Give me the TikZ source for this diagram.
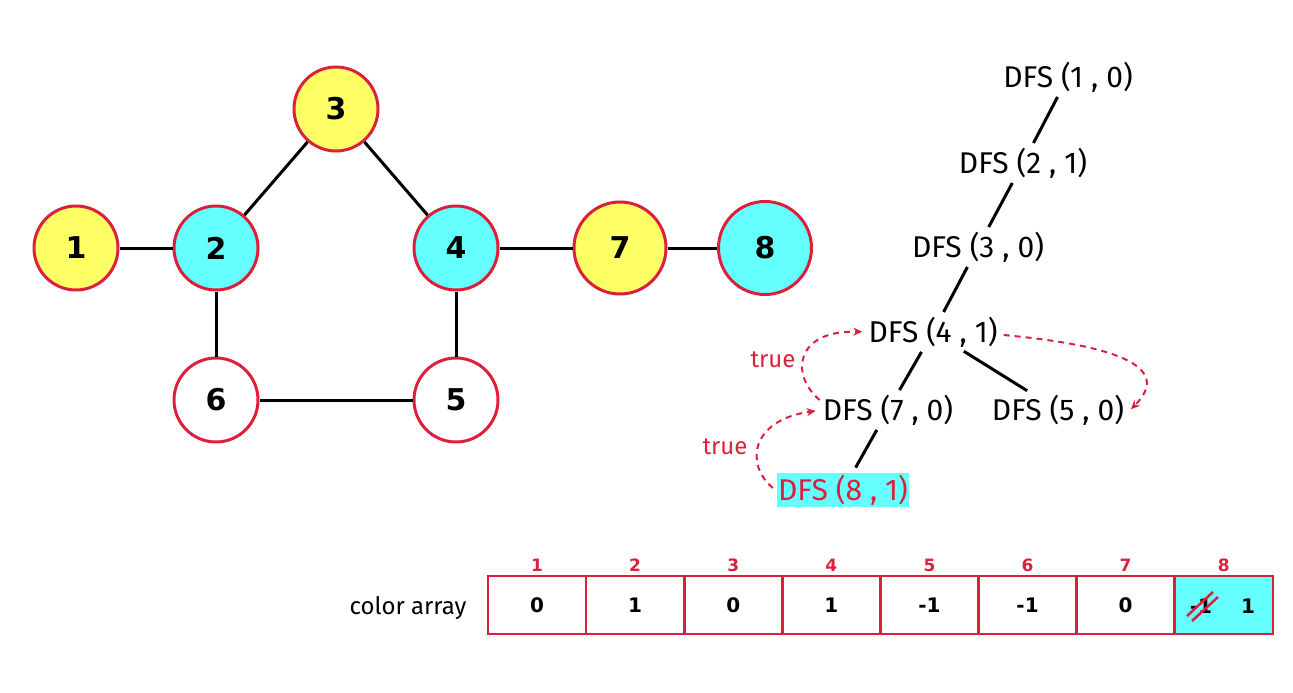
\documentclass[tikz,border=0pt]{standalone}
\usepackage{fontspec}
\setmainfont{Fira Sans}
\newfontfamily\vfont{DejaVu Sans}
\usetikzlibrary{arrows.meta}
\definecolor{cr}{RGB}{220,32,60}
\definecolor{yel}{RGB}{255,255,102}
\definecolor{cya}{RGB}{102,255,255}
\tikzset{
  gnode/.style={circle, draw=cr, line width=3pt, minimum size=84pt, inner sep=0pt,
    font=\vfont\bfseries\fontsize{30}{32}\selectfont},
  gedge/.style={line width=3pt, black},
  dfs/.style={inner sep=0pt, minimum height=36pt, font=\fontsize{30}{32}\selectfont},
  tedge/.style={line width=3pt, shorten >=2pt, shorten <=2pt},
  call/.style={cr, line width=2pt, dash pattern=on 6pt off 5pt, -{Stealth[length=9pt,width=8pt]}},
  cell/.style={draw=cr, line width=2.5pt, minimum width=98pt, minimum height=58pt, inner sep=0pt,
    font=\vfont\bfseries\fontsize{20}{22}\selectfont},
  idx/.style={text=cr, font=\vfont\bfseries\fontsize{17}{18}\selectfont},
  lbl/.style={text=cr, font=\fontsize{24}{26}\selectfont},
}
\begin{document}
\begin{tikzpicture}[x=1pt,y=-1pt]
\useasboundingbox (0,0) rectangle (1293,693);
% graph
\node[gnode, fill=yel] (n1) at (76,248) {1};
\node[gnode, fill=cya] (n2) at (216,248) {2};
\node[gnode, fill=yel] (n3) at (336,109) {3};
\node[gnode, fill=cya] (n4) at (456,248) {4};
\node[gnode, fill=yel, minimum size=92pt] (n7) at (620,248) {7};
\node[gnode, fill=cya, minimum size=93pt] (n8) at (765,248) {8};
\node[gnode, fill=white] (n6) at (216,400) {6};
\node[gnode, fill=white] (n5) at (456,400) {5};
\draw[gedge] (n1) -- (n2);
\draw[gedge] (n2) -- (n3);
\draw[gedge] (n3) -- (n4);
\draw[gedge] (n4) -- (n7);
\draw[gedge] (n7) -- (n8);
\draw[gedge] (n2) -- (n6);
\draw[gedge] (n6) -- (n5);
\draw[gedge] (n5) -- (n4);
% DFS tree
\node[dfs] (d1) at (1068,77) {DFS (1 , 0)};
\node[dfs] (d2) at (1023,163) {DFS (2 , 1)};
\node[dfs] (d3) at (978,247) {DFS (3 , 0)};
\node[dfs] (d4) at (933,332) {DFS (4 , 1)};
\node[dfs] (d7) at (888,410) {DFS (7 , 0)};
\node[dfs] (d5) at (1058,410) {DFS (5 , 0)};
\node[dfs, fill=cya, text=cr, inner xsep=1pt, minimum height=34pt] (d8) at (843,490) {DFS (8 , 1)};
\draw[tedge] (d1) -- (d2);
\draw[tedge] (d2) -- (d3);
\draw[tedge] (d3) -- (d4);
\draw[tedge] (d4) -- (d7);
\draw[tedge] (d4) -- (d5);
\draw[tedge, shorten >=6pt] (d7) -- (d8);
% return arrows
\draw[call, shorten >=6pt] ([shift={(-3,-10)}]d7.west) .. controls (790,375) and (795,330) .. (d4.west);
\draw[call, shorten >=7pt] ([shift={(-4,-2)}]d8.west) .. controls (745,465) and (750,420) .. (d7.west);
\draw[call, shorten >=1pt] ([shift={(6,3)}]d4.east) .. controls (1110,345) and (1175,365) .. ([shift={(6,0)}]d5.east);
\node[lbl] (t1) at (773,360) {true};
\node[lbl] (t2) at (725,447) {true};
% color array
\node[font=\fontsize{24}{26}\selectfont] (ca) at (408,608) {color array};
\foreach \i/\v in {1/0,2/1,3/0,4/1,5/-1,6/-1,7/0}{
  \node[cell] (c\i) at ({488+98.1*(\i-0.5)},605) {\v};
  \node[idx] (k\i) at ({488+98.1*(\i-0.5)},565) {\i};
}
\node[cell, fill=cya] (c8) at ({488+98.1*7.5},605) {};
\node[idx] (k8) at ({488+98.1*7.5},565) {8};
\node[font=\vfont\bfseries\fontsize{20}{22}\selectfont] (v8a) at (1201,606) {-1};
\node[font=\vfont\bfseries\fontsize{20}{22}\selectfont] (v8b) at (1248,606) {1};
\draw[cr, line width=2.5pt] (1187,616) -- (1213,592);
\draw[cr, line width=2.5pt] (1192,621) -- (1218,597);
\end{tikzpicture}
\end{document}
